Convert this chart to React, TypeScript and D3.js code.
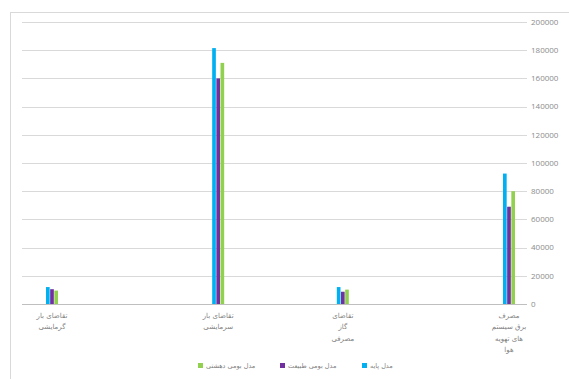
import React from 'react';
import * as d3 from 'd3';

// rows of the source sheet; empty rows keep their slot on the axis
const categories = [
  'تقاضای بار|گرمایشی', '', '', '',
  'تقاضای بار|سرمایشی', '', '',
  'تقاضای|گاز|مصرفی', '', '', '',
  'مصرف|برق سیستم|های تهویه|هوا',
];

const seriesNames = ['مدل پایه', 'مدل بومی طبیعت', 'مدل بومی دهشتی'];
const baseModel: (number | null)[] = [12000, null, null, null, 181500, null, null, 12000, null, null, null, 92500];
const natureModel: (number | null)[] = [10500, null, null, null, 160000, null, null, 8700, null, null, null, 69000];
const dashtiModel: (number | null)[] = [9500, null, null, null, 171000, null, null, 10200, null, null, null, 80000];
const yTicks = [0, 20000, 40000, 60000, 80000, 100000, 120000, 140000, 160000, 180000, 200000];

const colors = ['#00b0f0', '#7030a0', '#92d050'];

const App: React.FC = () => {
  const width = 569;
  const height = 379;
  const plot = { left: 22, right: 527, top: 22, bottom: 304 };

  const series = [baseModel, natureModel, dashtiModel];

  const x = d3.scalePoint<number>()
    .domain(categories.map((_, i) => i))
    .range([52, 509]);

  const inner = d3.scaleBand<number>()
    .domain([0, 1, 2])
    .range([-6, 6])
    .paddingInner(0.12);

  const y = d3.scaleLinear()
    .domain([0, 200000])
    .range([plot.bottom, plot.top]);

  const legendX = d3.scalePoint<number>()
    .domain([2, 1, 0])
    .range([198, 362]);

  const persian = '"DejaVu Sans", "Noto Sans", sans-serif';

  return (
    <svg
      width={width}
      height={height}
      viewBox={`0 0 ${width} ${height}`}
      style={{ position: 'absolute', left: 0, top: 0, background: '#fff' }}
    >
      {/* chart frame */}
      <rect x={10.5} y={12.5} width={width} height={height} fill="none" stroke="#d9d9d9" />

      {/* gridlines */}
      {yTicks.map(t => (
        <line
          key={t}
          x1={plot.left}
          x2={plot.right}
          y1={Math.round(y(t)) + 0.5}
          y2={Math.round(y(t)) + 0.5}
          stroke={t === 0 ? '#bfbfbf' : '#d9d9d9'}
          strokeWidth={1}
        />
      ))}

      {/* value axis on the right */}
      {yTicks.map(t => (
        <text
          key={t}
          x={531}
          y={y(t)}
          dy="0.35em"
          fontSize={8}
          fontFamily='"Open Sans", "Noto Sans", sans-serif'
          fill="#8c8c8c"
        >
          {t}
        </text>
      ))}

      {/* bars */}
      {series.map((vals, s) => (
        <g key={s}>
          {vals.map((v, i) => v === null ? null : (
            <rect
              key={i}
              x={(x(i) ?? 0) + (inner(s) ?? 0)}
              y={y(v)}
              width={inner.bandwidth()}
              height={y(0) - y(v)}
              fill={colors[s]}
            />
          ))}
        </g>
      ))}

      {/* category labels */}
      {categories.map((c, i) => c === '' ? null : (
        <text
          key={i}
          x={x(i)}
          y={318}
          textAnchor="middle"
          fontSize={7}
          fontFamily={persian}
          fill="#7f7f7f"
          direction="rtl"
        >
          {c.split('|').map((line, k) => (
            <tspan key={k} x={x(i)} dy={k === 0 ? 0 : 11.3}>{line}</tspan>
          ))}
        </text>
      ))}

      {/* legend */}
      {seriesNames.map((name, s) => (
        <g key={s} transform={`translate(${legendX(s)},366)`}>
          <rect x={0} y={-3} width={5} height={5} fill={colors[s]} />
          <text
            x={8}
            y={0}
            dy="0.35em"
            fontSize={6.5}
            fontFamily={persian}
            fill="#7f7f7f"
            textAnchor="start"
          >
            {name}
          </text>
        </g>
      ))}
    </svg>
  );
};

export default App;
